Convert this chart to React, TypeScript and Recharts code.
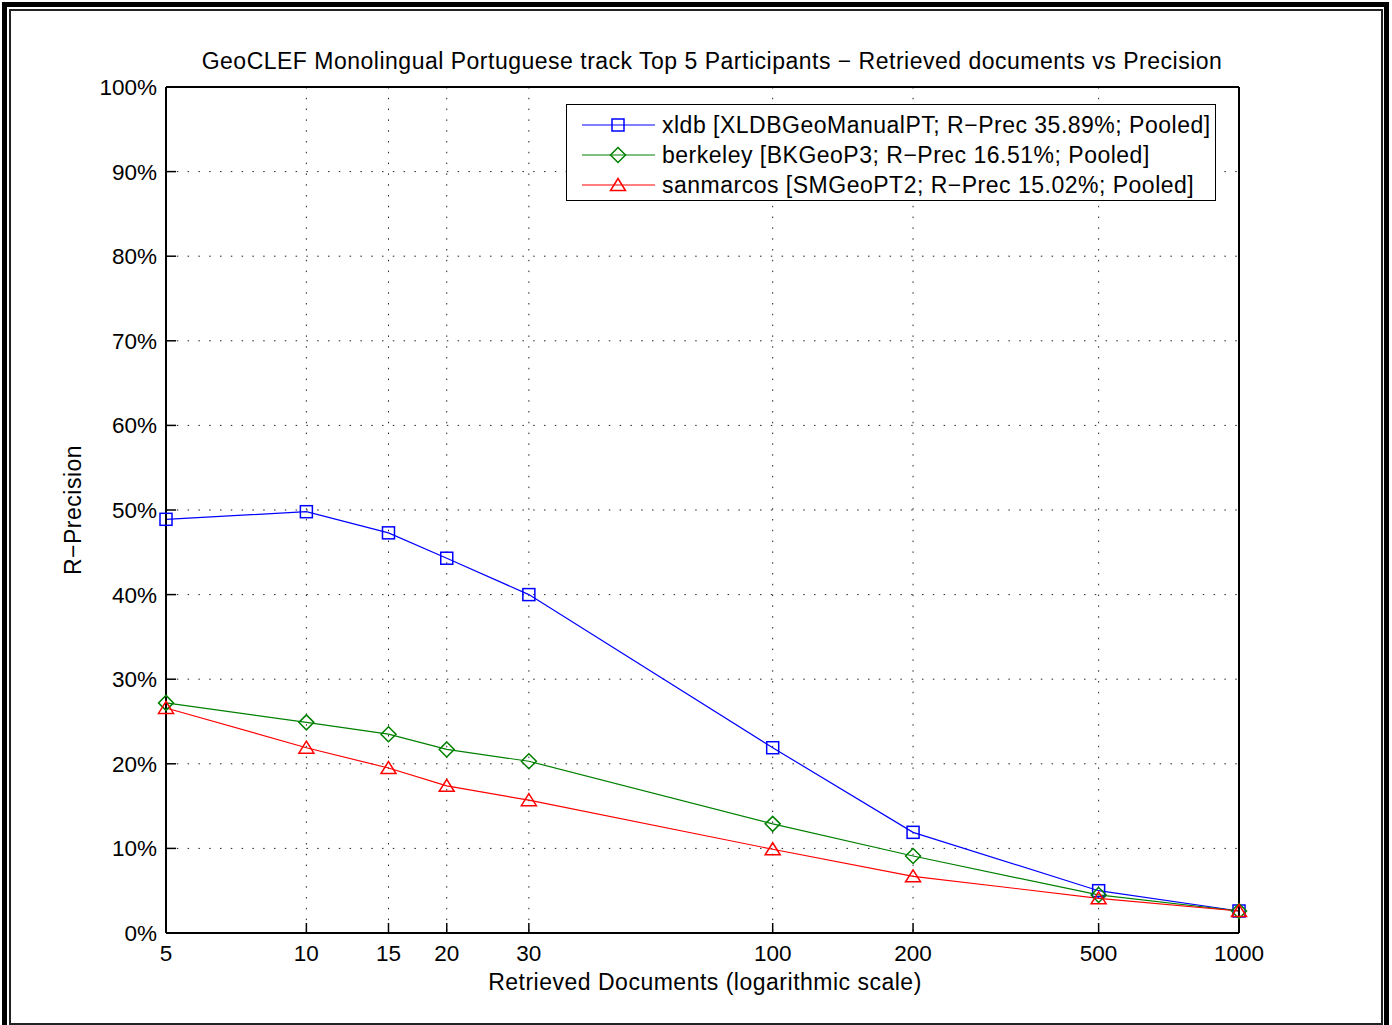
import { LineChart, Line, XAxis, YAxis, CartesianGrid } from 'recharts'

// documents retrieved (log x) and R-Precision in % for each participant
const docs = [5, 10, 15, 20, 30, 100, 200, 500, 1000]
const xldb = [48.9, 49.8, 47.3, 44.3, 40.0, 21.9, 11.9, 5.0, 2.6]
const berkeley = [27.2, 24.9, 23.5, 21.7, 20.3, 12.9, 9.1, 4.5, 2.6]
const sanmarcos = [26.6, 21.9, 19.5, 17.4, 15.7, 9.9, 6.7, 4.1, 2.6]
const yTicks = [0, 10, 20, 30, 40, 50, 60, 70, 80, 90, 100]

const series = [
  { key: 'xldb', color: '#0000ff', marker: 'square', label: 'xldb [XLDBGeoManualPT; R\u2212Prec 35.89%; Pooled]' },
  { key: 'berkeley', color: '#008000', marker: 'diamond', label: 'berkeley [BKGeoP3; R\u2212Prec 16.51%; Pooled]' },
  { key: 'sanmarcos', color: '#ff0000', marker: 'triangle', label: 'sanmarcos [SMGeoPT2; R\u2212Prec 15.02%; Pooled]' },
]

const data = docs.map((d, i) => ({ docs: d, xldb: xldb[i], berkeley: berkeley[i], sanmarcos: sanmarcos[i] }))

const FONT = '"Liberation Sans", Arial, Helvetica, sans-serif'
const textStyle = { fontFamily: FONT, fontSize: 23, letterSpacing: 0.5, color: '#000', whiteSpace: 'nowrap' as const }

const Marker = ({ type, cx, cy, color }: { type: string; cx: number; cy: number; color: string }) => {
  if (type === 'square')
    return <rect x={cx - 6} y={cy - 6} width={12} height={12} fill="none" stroke={color} strokeWidth={1.5} />
  if (type === 'diamond')
    return (
      <polygon
        points={`${cx},${cy - 7.5} ${cx + 7.5},${cy} ${cx},${cy + 7.5} ${cx - 7.5},${cy}`}
        fill="none"
        stroke={color}
        strokeWidth={1.5}
      />
    )
  return (
    <polygon
      points={`${cx},${cy - 6.5} ${cx + 7.5},${cy + 5.5} ${cx - 7.5},${cy + 5.5}`}
      fill="none"
      stroke={color}
      strokeWidth={1.5}
    />
  )
}

const makeDot = (type: string, color: string) => (props: any) => (
  <Marker key={`${type}-${props.index}`} type={type} cx={props.cx} cy={props.cy} color={color} />
)

const PlotLegend = () => (
  <div
    style={{
      position: 'absolute',
      left: 566,
      top: 104,
      width: 650,
      height: 97,
      border: '1px solid #000',
      boxSizing: 'border-box',
      background: '#fff',
    }}
  >
    {series.map((s, i) => (
      <div key={s.key} style={{ position: 'absolute', left: 0, top: 5 + i * 30, height: 30, display: 'flex', alignItems: 'center' }}>
        <svg width={95} height={30} style={{ display: 'block' }}>
          <line x1={15} x2={88} y1={15} y2={15} stroke={s.color} strokeWidth={1.2} />
          <Marker type={s.marker} cx={51} cy={15} color={s.color} />
        </svg>
        <span style={textStyle}>{s.label}</span>
      </div>
    ))}
  </div>
)

const App = () => {
  return (
    <div style={{ position: 'absolute', left: 0, top: 0, width: 1392, height: 1025, overflow: 'hidden', background: '#fff' }}>
      {/* double figure frame */}
      <div style={{ position: 'absolute', left: 2, top: 2, width: 1387, height: 1040, border: '5px solid #000', boxSizing: 'border-box' }} />
      <div style={{ position: 'absolute', left: 9, top: 9, width: 1374, height: 1016, border: '2px solid #222', boxSizing: 'border-box' }} />

      <div style={{ ...textStyle, position: 'absolute', left: 712, top: 61, transform: 'translate(-50%, -50%)' }}>
        GeoCLEF Monolingual Portuguese track Top 5 Participants {'\u2212'} Retrieved documents vs Precision
      </div>

      <div style={{ position: 'absolute', left: 0, top: 0 }}>
        <LineChart width={1392} height={1025} data={data} margin={{ top: 86, right: 152, bottom: 52, left: 96 }}>
          <CartesianGrid stroke="#222" strokeDasharray="1.5 9.3" />
          <XAxis
            dataKey="docs"
            type="number"
            scale="log"
            domain={[5, 1000]}
            ticks={docs}
            interval={0}
            height={40}
            tickSize={-10}
            tickMargin={22}
            axisLine={{ stroke: '#000', strokeWidth: 2 }}
            tickLine={{ stroke: '#000', strokeWidth: 1.5 }}
            tick={{ fill: '#000', fontFamily: FONT, fontSize: 22.5 }}
          />
          <XAxis
            xAxisId="top"
            orientation="top"
            dataKey="docs"
            type="number"
            scale="log"
            domain={[5, 1000]}
            ticks={docs}
            interval={0}
            height={1}
            tickSize={-10}
            axisLine={{ stroke: '#000', strokeWidth: 2 }}
            tickLine={{ stroke: '#000', strokeWidth: 1.5 }}
            tick={false}
          />
          <YAxis
            type="number"
            domain={[0, 100]}
            ticks={yTicks}
            interval={0}
            width={70}
            tickSize={-10}
            tickMargin={19}
            tickFormatter={(v: number) => `${v}%`}
            axisLine={{ stroke: '#000', strokeWidth: 2 }}
            tickLine={{ stroke: '#000', strokeWidth: 1.5 }}
            tick={{ fill: '#000', fontFamily: FONT, fontSize: 22.5 }}
          />
          <YAxis
            yAxisId="right"
            orientation="right"
            type="number"
            domain={[0, 100]}
            ticks={yTicks}
            interval={0}
            width={1}
            tickSize={-10}
            axisLine={{ stroke: '#000', strokeWidth: 2 }}
            tickLine={{ stroke: '#000', strokeWidth: 1.5 }}
            tick={false}
          />
          {series.map((s) => (
            <Line
              key={s.key}
              dataKey={s.key}
              stroke={s.color}
              strokeWidth={1.2}
              dot={makeDot(s.marker, s.color)}
              activeDot={false}
              isAnimationActive={false}
            />
          ))}
        </LineChart>
      </div>

      <PlotLegend />

      <div style={{ ...textStyle, position: 'absolute', left: 705, top: 982, transform: 'translate(-50%, -50%)' }}>
        Retrieved Documents (logarithmic scale)
      </div>
      <div style={{ ...textStyle, position: 'absolute', left: 73, top: 510, transform: 'translate(-50%, -50%) rotate(-90deg)' }}>
        R{'\u2212'}Precision
      </div>
    </div>
  )
}

export default App
